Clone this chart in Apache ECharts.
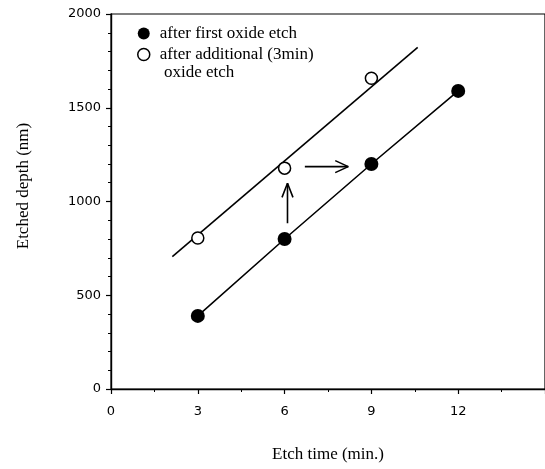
<!DOCTYPE html>
<html><head><meta charset="utf-8">
<script src="https://cdn.jsdelivr.net/npm/echarts@6/dist/echarts.min.js"></script>
<style>html,body{margin:0;padding:0;background:#fff}#c{width:545px;height:469px}</style>
</head><body><div id="c"></div>
<script>
// Data
const firstEtchTime = [3, 6, 9, 12];
const firstEtchDepth = [390, 800, 1200, 1590];
const additionalEtchTime = [3, 6, 9];
const additionalEtchDepth = [805, 1178, 1657];
const fitLineTime = [2.12, 10.6];
const fitLineDepth = [706, 1822];
// Annotation arrows (data units)
const upArrowTime = [6.1, 6.1];
const upArrowDepth = [884, 1097];
const upArrowHeadTime = [5.91, 6.1, 6.29];
const upArrowHeadDepth = [1022, 1097, 1022];
const rightArrowTime = [6.7, 8.2];
const rightArrowDepth = [1186, 1186];
const rightArrowHeadTime = [7.75, 8.2, 7.75];
const rightArrowHeadDepth = [1218, 1186, 1154];

const legendNames = ['after first oxide etch', 'after additional (3min)'];
const legendContinuation = 'oxide etch';
const xTitle = 'Etch time (min.)';
const yTitle = 'Etched depth (nm)';

const zip = (a, b) => a.map((v, i) => [v, b[i]]);
const serif = '"Liberation Serif", "Times New Roman", serif';
const sans = '"DejaVu Sans", sans-serif';

const chart = echarts.init(document.getElementById('c'), null, {renderer: 'canvas'});
const plainLine = (data) => ({
  type: 'line', data, symbol: 'none', silent: true,
  lineStyle: {color: '#000', width: 1.6}, z: 2
});
chart.setOption({
  animation: false,
  backgroundColor: '#fff',
  grid: {left: 111, top: 14, right: -34, bottom: 80, show: true, borderColor: '#000', borderWidth: 1.2, backgroundColor: 'transparent'},
  xAxis: {
    type: 'value', min: 0, max: 15, interval: 3,
    axisLine: {lineStyle: {color: '#000', width: 1.4}},
    axisTick: {length: 5, lineStyle: {color: '#000', width: 1.2}},
    minorTick: {show: true, splitNumber: 2, length: 3, lineStyle: {color: '#000', width: 1}},
    splitLine: {show: false},
    axisLabel: {margin: 16, color: '#000', fontFamily: sans, fontSize: 13, showMaxLabel: false,
                formatter: v => String(v)}
  },
  yAxis: {
    type: 'value', min: 0, max: 2000, interval: 500,
    axisLine: {lineStyle: {color: '#000', width: 1.4}},
    axisTick: {length: 5, lineStyle: {color: '#000', width: 1.2}},
    minorTick: {show: true, splitNumber: 5, length: 3, lineStyle: {color: '#000', width: 1}},
    splitLine: {show: false},
    axisLabel: {margin: 10, color: '#000', fontFamily: sans, fontSize: 13,
                formatter: v => String(v)}
  },
  legend: {
    orient: 'vertical', left: 132, top: 20,
    itemWidth: 22, itemHeight: 12, itemGap: 4,
    textStyle: {fontFamily: serif, fontSize: 17, color: '#000', lineHeight: 17},
    data: [
      {name: legendNames[0], icon: 'circle', itemStyle: {color: '#000', borderWidth: 0}},
      {name: legendNames[1], icon: 'circle', itemStyle: {color: '#fff', borderColor: '#000', borderWidth: 1.5}}
    ]
  },
  graphic: [
    {type: 'text', x: 164, y: 72.5, silent: true,
     style: {text: legendContinuation, font: '17px ' + serif, fill: '#000', verticalAlign: 'middle'}},
    {type: 'text', x: 328, y: 455, silent: true,
     style: {text: xTitle, font: '17px ' + serif, fill: '#000', align: 'center', verticalAlign: 'middle'}},
    {type: 'text', x: 24, y: 186, rotation: Math.PI / 2, silent: true,
     style: {text: yTitle, font: '17px ' + serif, fill: '#000', align: 'center', verticalAlign: 'middle'}}
  ],
  series: [
    plainLine(zip(fitLineTime, fitLineDepth)),
    plainLine(zip(upArrowTime, upArrowDepth)),
    plainLine(zip(upArrowHeadTime, upArrowHeadDepth)),
    plainLine(zip(rightArrowTime, rightArrowDepth)),
    plainLine(zip(rightArrowHeadTime, rightArrowHeadDepth)),
    {
      name: legendNames[0], type: 'line', data: zip(firstEtchTime, firstEtchDepth),
      symbol: 'circle', symbolSize: 14, showAllSymbol: true,
      itemStyle: {color: '#000'}, lineStyle: {color: '#000', width: 1.6}, z: 3
    },
    {
      name: legendNames[1], type: 'scatter', data: zip(additionalEtchTime, additionalEtchDepth),
      symbol: 'circle', symbolSize: 12,
      itemStyle: {color: '#fff', borderColor: '#000', borderWidth: 1.5, opacity: 1}, z: 4
    }
  ]
});
</script></body></html>
